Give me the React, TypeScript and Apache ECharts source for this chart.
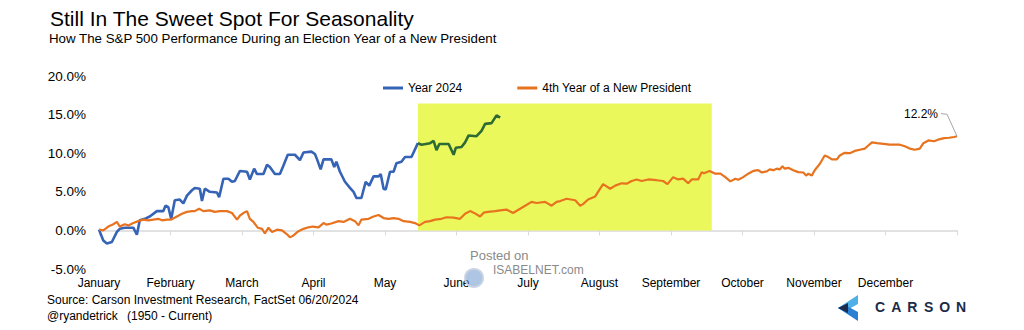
import React, { useEffect, useRef } from 'react';
import * as echarts from 'echarts';

const MONTHS = ['January', 'February', 'March', 'April', 'May', 'June', 'July', 'August', 'September', 'October', 'November', 'December'];
const Y_MIN = -5;
const Y_MAX = 20;
const Y_STEP = 5;
const HIGHLIGHT_FROM = 4.46; // month position
const HIGHLIGHT_TO = 8.57;
const HIGHLIGHT_TOP = 16.45;
const FINAL_LABEL = '12.2%';

// [month position, % performance]
const YEAR_2024: [number, number][] = [
  [0.00, 0.1], [0.06, -1.3], [0.11, -1.7], [0.18, -1.5], [0.25, -0.2], [0.29, 0.2], [0.36, 0.35], [0.48, 0.35], [0.53, -0.56], [0.57, 1.3],
  [0.64, 1.5], [0.71, 1.8], [0.81, 2.5], [0.90, 2.5], [0.93, 3.2], [0.97, 3.0], [1.01, 1.5], [1.06, 3.9], [1.13, 4.0], [1.18, 3.5],
  [1.23, 4.5], [1.30, 5.2], [1.34, 5.5], [1.41, 5.4], [1.44, 3.8], [1.48, 5.4], [1.55, 5.0], [1.65, 4.9], [1.68, 4.3], [1.74, 6.7],
  [1.81, 6.7], [1.86, 6.3], [1.90, 6.4], [1.97, 7.7], [2.07, 7.6], [2.11, 6.6], [2.17, 8.0], [2.21, 7.3], [2.30, 7.3], [2.35, 8.5],
  [2.39, 8.2], [2.46, 7.3], [2.53, 7.3], [2.58, 8.4], [2.64, 9.8], [2.74, 9.8], [2.81, 9.1], [2.86, 10.1], [2.97, 10.2], [3.02, 9.9],
  [3.05, 9.2], [3.10, 7.9], [3.14, 9.2], [3.25, 9.2], [3.29, 8.2], [3.32, 8.9], [3.37, 7.6], [3.44, 6.3], [3.51, 5.5], [3.56, 5.0],
  [3.60, 4.2], [3.67, 4.2], [3.73, 6.3], [3.78, 5.8], [3.84, 7.0], [3.91, 7.0], [3.94, 7.3], [3.98, 5.4], [4.01, 5.3], [4.07, 7.6],
  [4.12, 7.6], [4.16, 8.7], [4.23, 8.9], [4.28, 9.5], [4.37, 9.5], [4.46, 11.3], [4.51, 11.1], [4.63, 11.3], [4.68, 11.6], [4.72, 10.4],
  [4.76, 11.2], [4.89, 11.2], [4.96, 9.8], [4.99, 10.7], [5.07, 10.8], [5.12, 11.4], [5.17, 12.3], [5.28, 12.2], [5.35, 12.9], [5.40, 13.8],
  [5.49, 13.9], [5.56, 14.9], [5.61, 14.6],
];

const NEW_PRES_4TH: [number, number][] = [
  [0.00, 0.1], [0.06, 0.0], [0.13, 0.5], [0.20, 0.8], [0.25, 1.1], [0.29, 0.5], [0.36, 0.8], [0.41, 0.65], [0.48, 0.95], [0.55, 1.2],
  [0.62, 1.4], [0.69, 1.3], [0.76, 1.4], [0.83, 1.5], [0.88, 1.3], [0.95, 1.4], [1.01, 1.4], [1.09, 1.8], [1.16, 2.15], [1.23, 2.4],
  [1.30, 2.5], [1.34, 2.5], [1.40, 2.8], [1.46, 2.5], [1.55, 2.6], [1.62, 2.4], [1.69, 2.5], [1.79, 2.5], [1.86, 2.25], [1.93, 1.4],
  [1.97, 1.9], [2.02, 2.25], [2.07, 2.5], [2.11, 1.5], [2.16, 1.1], [2.22, 0.35], [2.28, 0.2], [2.32, -0.4], [2.37, 0.35], [2.42, -0.2],
  [2.49, 0.1], [2.56, 0.0], [2.63, -0.5], [2.67, -0.9], [2.72, -0.65], [2.79, -0.1], [2.86, 0.2], [2.93, 0.4], [2.99, 0.5], [3.07, 0.4],
  [3.14, 0.95], [3.18, 0.75], [3.25, 0.9], [3.35, 1.2], [3.42, 1.1], [3.51, 1.5], [3.58, 1.2], [3.63, 0.65], [3.67, 1.4], [3.77, 1.5],
  [3.84, 1.8], [3.91, 2.0], [3.98, 1.6], [4.05, 1.5], [4.12, 1.6], [4.19, 1.5], [4.26, 1.2], [4.35, 1.1], [4.42, 0.95], [4.48, 0.65],
  [4.56, 1.1], [4.63, 1.2], [4.70, 1.4], [4.79, 1.5], [4.86, 1.7], [4.96, 1.65], [5.05, 1.5], [5.12, 2.15], [5.19, 2.5], [5.24, 2.3],
  [5.33, 1.8], [5.38, 2.3], [5.44, 2.4], [5.54, 2.5], [5.61, 2.6], [5.70, 2.7], [5.79, 2.25], [5.89, 2.8], [5.96, 3.2], [6.05, 3.7],
  [6.12, 3.55], [6.24, 3.7], [6.33, 3.2], [6.40, 3.7], [6.45, 3.8], [6.54, 4.1], [6.66, 3.9], [6.73, 3.2], [6.77, 3.4], [6.84, 4.0],
  [6.94, 4.4], [6.98, 5.0], [7.05, 6.0], [7.15, 5.4], [7.22, 5.8], [7.31, 6.1], [7.38, 6.05], [7.45, 6.4], [7.52, 6.6], [7.59, 6.4],
  [7.68, 6.6], [7.80, 6.5], [7.89, 6.4], [7.95, 6.0], [8.03, 6.9], [8.10, 6.6], [8.17, 6.7], [8.24, 6.1], [8.29, 6.6], [8.38, 6.6],
  [8.43, 7.55], [8.46, 7.4], [8.54, 7.7], [8.62, 7.35], [8.69, 7.35], [8.76, 6.9], [8.83, 6.35], [8.90, 6.7], [8.94, 6.55], [9.01, 6.9],
  [9.08, 7.35], [9.15, 7.7], [9.22, 7.8], [9.27, 7.5], [9.34, 7.65], [9.38, 7.9], [9.43, 7.8], [9.48, 8.0], [9.52, 7.9], [9.56, 8.3],
  [9.59, 8.0], [9.64, 8.1], [9.71, 7.8], [9.78, 7.55], [9.85, 7.5], [9.89, 7.1], [9.92, 7.35], [9.97, 7.1], [10.01, 7.8], [10.08, 8.6],
  [10.15, 9.7], [10.20, 9.5], [10.25, 9.2], [10.32, 9.2], [10.36, 9.7], [10.43, 10.05], [10.50, 10.0], [10.57, 10.3], [10.64, 10.45], [10.71, 10.6],
  [10.76, 11.0], [10.81, 11.4], [10.88, 11.3], [10.97, 11.2], [11.06, 11.1], [11.20, 11.1], [11.27, 10.9], [11.34, 10.6], [11.41, 10.45], [11.48, 10.6],
  [11.53, 11.3], [11.60, 11.65], [11.68, 11.55], [11.75, 11.8], [11.82, 11.95], [11.89, 12.0], [11.96, 12.1], [12.00, 12.2],
];

const BLUE = '#3563b5';
const GREEN = '#2e6a34';
const ORANGE = '#e8731f';
const YELLOW = '#ebf85c';
const FONT = "'Liberation Sans', Arial, Helvetica, sans-serif";

function txt(id: string, text: string, x: number, y: number, fontSize: number, fill: string, extra: any = {}) {
  const align = extra.align || 'left';
  return {
    type: 'text',
    id,
    z: 100,
    silent: true,
    style: {
      text, x, y, fontSize, fill, fontFamily: FONT,
      fontWeight: extra.fontWeight || 'normal',
      align, textAlign: align,
      verticalAlign: 'middle', textVerticalAlign: 'middle',
    },
  };
}

export default function App() {
  const ref = useRef<HTMLDivElement>(null);

  useEffect(() => {
    if (!ref.current) return;
    const chart = echarts.init(ref.current, null, { renderer: 'svg' });

    const blueA = YEAR_2024.filter((p) => p[0] <= HIGHLIGHT_FROM);
    const blueB = YEAR_2024.filter((p) => p[0] >= HIGHLIGHT_FROM);

    const carsonLetters = 'CARSON'.split('').map((ch, i) =>
      txt('carson' + i, ch, 880 + i * 16.2, 307, 14, '#1c2b48', { align: 'center', fontWeight: 'bold' })
    );

    const staticGraphics: any[] = [
      txt('title', 'Still In The Sweet Spot For Seasonality', 50, 18, 21, '#000'),
      txt('subtitle', 'How The S&P 500 Performance During an Election Year of a New President', 49, 38, 13.3, '#000'),
      txt('source', 'Source: Carson Investment Research, FactSet 06/20/2024', 47, 300, 12, '#000'),
      txt('credit1', '@ryandetrick', 47, 316, 12, '#000'),
      txt('credit2', '(1950 - Current)', 127, 316, 12, '#000'),
      {
        type: 'circle', id: 'wmlogo', z: 100, silent: true,
        shape: { cx: 474, cy: 278, r: 9 },
        style: { fill: 'rgba(110,150,205,0.55)', stroke: 'rgba(200,210,225,0.9)', lineWidth: 2 },
      },
      txt('wm1', 'Posted on', 470, 255, 13, '#8a8a8a'),
      txt('wm2', 'ISABELNET.com', 493, 269.5, 12, '#8a8a8a'),
      {
        type: 'polygon', id: 'logoTop', z: 100, silent: true,
        shape: { points: [[858, 295], [858, 304], [845, 311], [838, 308]] },
        style: { fill: '#4fb0e8' },
      },
      {
        type: 'polygon', id: 'logoBottom', z: 100, silent: true,
        shape: { points: [[838, 308], [845, 305], [858, 312], [858, 321]] },
        style: { fill: '#2a80d2' },
      },
      {
        type: 'polygon', id: 'logoMid', z: 101, silent: true,
        shape: { points: [[838, 308], [848, 303], [848, 313]] },
        style: { fill: '#1b2c4e' },
      },
      ...carsonLetters,
    ];

    chart.setOption({
      animation: false,
      textStyle: { fontFamily: FONT },
      grid: { left: 99, right: 67, top: 76, bottom: 61, containLabel: false },
      legend: {
        left: 378,
        top: 77,
        icon: 'rect',
        itemWidth: 20,
        itemHeight: 3,
        itemGap: 55,
        textStyle: { fontSize: 12, color: '#000', fontFamily: FONT },
        data: ['Year 2024', '4th Year of a New President'],
        selectedMode: false,
      },
      xAxis: {
        type: 'value',
        min: 0,
        max: 12,
        interval: 1,
        axisLine: { show: true, onZero: true, lineStyle: { color: '#d9d9d9', width: 1.5 } },
        axisTick: { show: true, length: 5, lineStyle: { color: '#d9d9d9', width: 1 } },
        splitLine: { show: false },
        axisLabel: {
          margin: 8,
          fontSize: 12,
          color: '#000',
          fontFamily: FONT,
          formatter: (v: number) => MONTHS[Math.round(v)] ?? '',
        },
      },
      yAxis: {
        type: 'value',
        min: Y_MIN,
        max: Y_MAX,
        interval: Y_STEP,
        axisLine: { show: false },
        axisTick: { show: false },
        splitLine: { show: false },
        axisLabel: {
          margin: 13,
          fontSize: 13.5,
          color: '#000',
          fontFamily: FONT,
          formatter: (v: number) => v.toFixed(1) + '%',
        },
      },
      series: [
        {
          type: 'line',
          name: 'highlight',
          data: [],
          silent: true,
          z: 1,
          markArea: {
            silent: true,
            itemStyle: { color: YELLOW, opacity: 1 },
            data: [[{ xAxis: HIGHLIGHT_FROM, yAxis: 0 }, { xAxis: HIGHLIGHT_TO, yAxis: HIGHLIGHT_TOP }]],
          },
        },
        {
          type: 'line',
          name: 'Year 2024',
          data: blueA,
          showSymbol: false,
          symbol: 'none',
          z: 3,
          lineStyle: { color: BLUE, width: 2.6 },
          itemStyle: { color: BLUE },
        },
        {
          type: 'line',
          name: 'Year 2024 (summer)',
          data: blueB,
          showSymbol: false,
          symbol: 'none',
          z: 3,
          lineStyle: { color: GREEN, width: 2.6 },
          itemStyle: { color: GREEN },
        },
        {
          type: 'line',
          name: '4th Year of a New President',
          data: NEW_PRES_4TH,
          showSymbol: false,
          symbol: 'none',
          z: 4,
          lineStyle: { color: ORANGE, width: 2.2 },
          itemStyle: { color: ORANGE },
        },
      ],
      graphic: staticGraphics,
    });

    const last = NEW_PRES_4TH[NEW_PRES_4TH.length - 1];
    const p = chart.convertToPixel({ gridIndex: 0 } as any, last) as unknown as number[];
    if (p && isFinite(p[0])) {
      const ex = p[0];
      const ey = p[1];
      chart.setOption({
        graphic: [
          ...staticGraphics,
          {
            type: 'polyline', id: 'leader', z: 100, silent: true,
            shape: { points: [[ex - 16, ey - 22.5], [ex - 10, ey - 22], [ex, ey]] },
            style: { stroke: '#a6a6a6', lineWidth: 1, fill: 'none' },
          },
          txt('finalLabel', FINAL_LABEL, ex - 19, ey - 22.5, 12, '#000', { align: 'right' }),
        ],
      });
    }

    return () => {
      chart.dispose();
    };
  }, []);

  return (
    <div
      ref={ref}
      style={{ position: 'fixed', left: 0, top: 0, width: 1024, height: 330, background: '#fff' }}
    />
  );
}
